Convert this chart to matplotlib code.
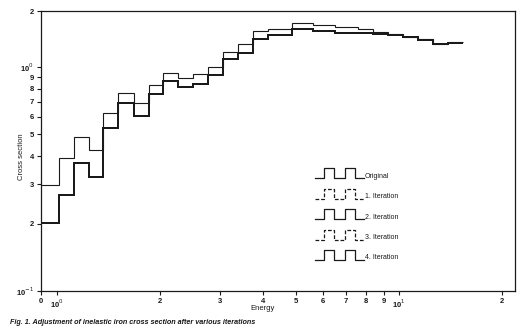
import matplotlib
matplotlib.use("Agg")
import matplotlib.pyplot as plt
from matplotlib.lines import Line2D
from matplotlib.legend_handler import HandlerBase

plt.rcParams['font.family'] = ['Liberation Sans', 'DejaVu Sans']

# bin edges (energy)
edges = [0.898, 1.013, 1.121, 1.24, 1.363, 1.507, 1.68, 1.858, 2.042, 2.258,
         2.498, 2.763, 3.058, 3.381, 3.74, 4.137, 4.86, 5.6, 6.49, 7.58,
         8.41, 9.3, 10.28, 11.37, 12.57, 13.9, 15.4]

original = [0.297, 0.392, 0.487, 0.426, 0.623, 0.765, 0.690, 0.832, 0.940,
            0.893, 0.931, 1.0, 1.166, 1.267, 1.448, 1.478, 1.572, 1.540,
            1.510, 1.478, 1.433, 1.403, 1.361, 1.334, 1.267, 1.294]

iter1 = [0.201, 0.268, 0.373, 0.323, 0.534, 0.690, 0.604, 0.757, 0.866,
         0.814, 0.840, 0.921, 1.086, 1.155, 1.334, 1.389, 1.478, 1.448,
         1.418, 1.418, 1.403, 1.389, 1.361, 1.319, 1.267, 1.280]
iter2 = [0.201, 0.268, 0.373, 0.323, 0.534, 0.690, 0.604, 0.757, 0.866,
         0.814, 0.840, 0.921, 1.086, 1.155, 1.334, 1.389, 1.478, 1.448,
         1.418, 1.418, 1.403, 1.389, 1.361, 1.319, 1.267, 1.280]
iter3 = [0.201, 0.268, 0.373, 0.323, 0.534, 0.690, 0.604, 0.757, 0.866,
         0.814, 0.840, 0.921, 1.086, 1.155, 1.334, 1.389, 1.478, 1.448,
         1.418, 1.418, 1.403, 1.389, 1.361, 1.319, 1.267, 1.280]
iter4 = [0.201, 0.268, 0.373, 0.323, 0.534, 0.690, 0.604, 0.757, 0.866,
         0.814, 0.840, 0.921, 1.086, 1.155, 1.334, 1.389, 1.478, 1.448,
         1.418, 1.418, 1.403, 1.389, 1.361, 1.319, 1.267, 1.280]

labels = ['Original', '1. Iteration', '2. Iteration', '3. Iteration', '4. Iteration']

xticks = [0.898, 1, 2, 3, 4, 5, 6, 7, 8, 9, 10, 20]
xticklabels = ['0', '10$^0$', '2', '3', '4', '5', '6', '7', '8', '9', '10$^1$', '2']
yticks = [0.1, 0.2, 0.3, 0.4, 0.5, 0.6, 0.7, 0.8, 0.9, 1.0, 1.78]
yticklabels = ['10$^{-1}$', '2', '3', '4', '5', '6', '7', '8', '9', '10$^0$', '2']


class PulseHandler(HandlerBase):
    # little step-shaped glyph like the one in the printed key
    def create_artists(self, legend, orig_handle, xdescent, ydescent,
                       width, height, fontsize, trans):
        fx = [0, .18, .18, .39, .39, .61, .61, .82, .82, 1]
        fy = [0, 0, 1, 1, 0, 0, 1, 1, 0, 0]
        xs = [-xdescent + f * width for f in fx]
        ys = [-ydescent + height * (0.1 + 1.25 * f) for f in fy]
        line = Line2D(xs, ys, transform=trans)
        line.update_from(orig_handle)
        return [line]


fig = plt.figure(figsize=(5.2, 3.32), dpi=100)
ax = fig.add_axes([41 / 520, 41 / 332, 474 / 520, 280 / 332])

ink = '#1a1a1a'
h0 = ax.stairs(original, edges, color=ink, lw=0.8, baseline=None)
h1 = ax.stairs(iter1, edges, color=ink, lw=1.1, ls=(0, (3, 1.5)), baseline=None)
h2 = ax.stairs(iter2, edges, color=ink, lw=1.1, baseline=None)
h3 = ax.stairs(iter3, edges, color=ink, lw=1.1, ls=(1.5, (3, 1.5)), baseline=None)
h4 = ax.stairs(iter4, edges, color=ink, lw=1.4, baseline=None)

ax.set_xscale('log')
ax.set_yscale('log')
ax.set_xlim(0.898, 21.8)
ax.set_ylim(0.1, 1.78)

ax.set_xticks(xticks)
ax.set_xticklabels(xticklabels)
ax.set_yticks(yticks)
ax.set_yticklabels(yticklabels)
ax.minorticks_off()
ax.tick_params(labelsize=5.5, length=3, width=0.8, color=ink, labelcolor=ink, pad=2)
for lab in ax.get_xticklabels() + ax.get_yticklabels():
    lab.set_fontweight('bold')
for s in ax.spines.values():
    s.set_linewidth(0.9)
    s.set_color(ink)

ax.set_xlabel('Energy', fontsize=5.5, color=ink)
ax.xaxis.set_label_coords(0.468, -0.062, transform=ax.transAxes)
ax.xaxis.label.set_verticalalignment('center')
ax.set_ylabel('Cross section', fontsize=5.5, color=ink)
ax.yaxis.set_label_coords(-0.034, 0.48)

leg_handles = [Line2D([], [], color=ink, lw=0.9),
               Line2D([], [], color=ink, lw=0.9, ls=(0, (3, 1.5))),
               Line2D([], [], color=ink, lw=0.9),
               Line2D([], [], color=ink, lw=0.9, ls=(0, (3, 1.5))),
               Line2D([], [], color=ink, lw=0.9)]
leg = ax.legend(leg_handles, labels, loc='upper left', bbox_to_anchor=(0.565, 0.45),
                frameon=False, fontsize=5, handlelength=7.0, handleheight=1.4,
                labelspacing=1.75, handletextpad=0.15,
                handler_map={Line2D: PulseHandler()})
for t in leg.get_texts():
    t.set_color(ink)

fig.text(10 / 520, 1 - 322 / 332,
         'Fig. 1. Adjustment of inelastic iron cross section after various iterations',
         fontsize=5.2, style='italic', fontweight='bold', color=ink, va='center')

fig.savefig('out.png', dpi=100)
